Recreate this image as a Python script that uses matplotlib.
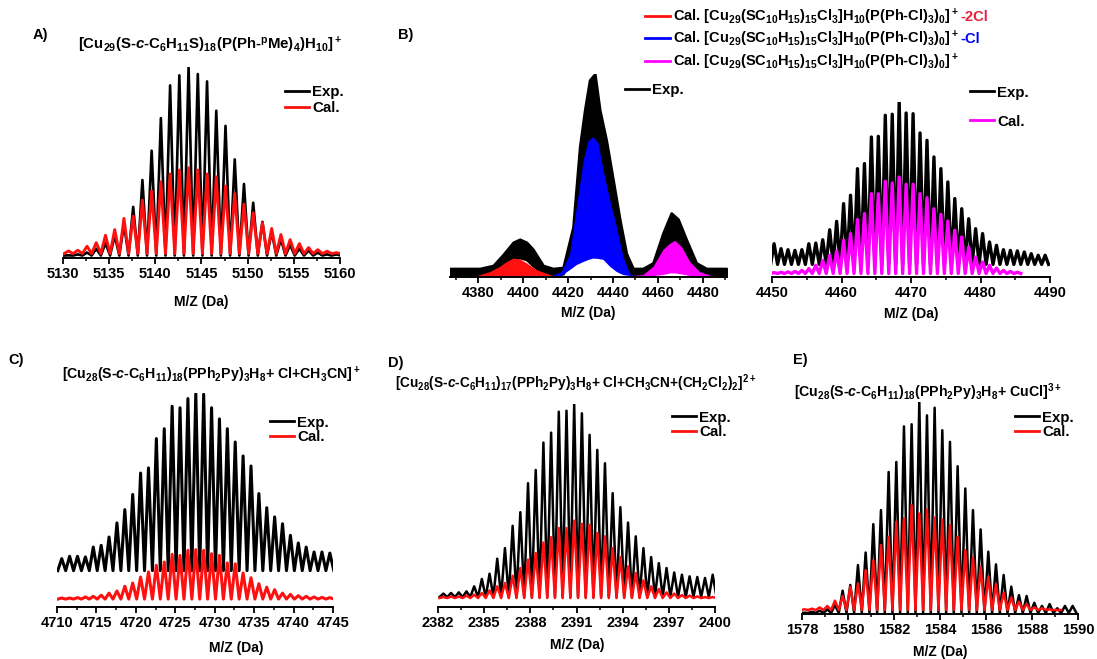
import numpy as np
import matplotlib
matplotlib.use('Agg')
import matplotlib.pyplot as plt
from matplotlib.lines import Line2D
from matplotlib.ticker import MultipleLocator

plt.rcParams['font.family'] = ['Liberation Sans', 'DejaVu Sans']
plt.rcParams['font.weight'] = 'bold'
plt.rcParams['mathtext.fontset'] = 'custom'
plt.rcParams['mathtext.rm'] = 'Liberation Sans:bold'
plt.rcParams['mathtext.it'] = 'Liberation Sans:italic:bold'
plt.rcParams['mathtext.bf'] = 'Liberation Sans:bold'
plt.rcParams['mathtext.default'] = 'regular'

RED = '#ff1010'
BLUE = '#0000ff'
MAGENTA = '#ff00ff'

# === DATA (normalised intensities) ===
# A) isotope peaks, 1 Da apart
mz_A = np.arange(5130.6, 5160.0, 1.0)
exp_A = [0.005, 0.01, 0.02, 0.04, 0.07, 0.11, 0.17, 0.261, 0.403, 0.558,
         0.730, 0.903, 0.956, 1.0, 0.963, 0.924, 0.769, 0.689, 0.512, 0.382,
         0.283, 0.182, 0.13, 0.09, 0.06, 0.04, 0.03, 0.02, 0.01, 0.01]
cal_A = [0.028, 0.032, 0.053, 0.072, 0.111, 0.141, 0.200, 0.212, 0.297, 0.345,
         0.394, 0.435, 0.456, 0.468, 0.456, 0.435, 0.420, 0.371, 0.332, 0.276,
         0.230, 0.177, 0.147, 0.115, 0.088, 0.067, 0.046, 0.035, 0.027, 0.019]
exp_A_base = 0.004
cal_A_base = 0.014

# B) wide scan, envelopes (upper / lower edge of the dense spectra)
mz_B_exp = [4367.4, 4380.7, 4386.7, 4391.1, 4395.6, 4398.5, 4401.5, 4404.4, 4408.9,
            4413.3, 4417.8, 4422.2, 4425.2, 4427.4, 4429.6, 4431.9, 4434.1, 4437.0,
            4440.0, 4443.0, 4445.9, 4448.9, 4453.3, 4457.8, 4462.2, 4465.9, 4468.9,
            4472.6, 4477.0, 4481.5, 4490.4]
exp_B_top = [0.035, 0.035, 0.05, 0.104, 0.165, 0.18, 0.165, 0.13, 0.05, 0.035,
             0.04, 0.24, 0.64, 0.82, 0.97, 1.0, 0.82, 0.67, 0.475, 0.277,
             0.11, 0.035, 0.035, 0.063, 0.21, 0.31, 0.28, 0.178, 0.063, 0.035, 0.035]
exp_B_bot = [0.0, 0.0, 0.01, 0.04, 0.08, 0.09, 0.08, 0.05, 0.01, 0.0,
             0.01, 0.12, 0.35, 0.5, 0.6, 0.6, 0.55, 0.45, 0.3, 0.15,
             0.04, 0.0, 0.0, 0.02, 0.1, 0.15, 0.14, 0.08, 0.02, 0.0, 0.0]
mz_B_red = [4379.3, 4385.2, 4389.6, 4392.6, 4395.6, 4398.5, 4401.5, 4405.9, 4411.9, 4414.0]
red_B_top = [0.0, 0.02, 0.046, 0.07, 0.087, 0.083, 0.063, 0.03, 0.005, 0.0]
mz_B_blue = [4412.6, 4417.0, 4420.7, 4423.7, 4426.7, 4428.9, 4431.1, 4433.3, 4435.6,
             4438.5, 4441.5, 4444.4, 4447.4, 4448.9]
blue_B_top = [0.0, 0.02, 0.11, 0.34, 0.57, 0.67, 0.69, 0.66, 0.525,
              0.376, 0.244, 0.096, 0.01, 0.0]
blue_B_bot = [0.0, 0.002, 0.03, 0.055, 0.07, 0.08, 0.087, 0.085, 0.08,
              0.046, 0.02, 0.005, 0.0, 0.0]
mz_B_mag = [4447.4, 4453.3, 4457.8, 4462.2, 4465.2, 4467.4, 4470.4, 4474.1, 4478.5, 4483.7]
mag_B_top = [0.0, 0.005, 0.046, 0.13, 0.16, 0.175, 0.145, 0.07, 0.02, 0.0]
mag_B_bot = [0.0, 0.0, 0.0, 0.005, 0.013, 0.013, 0.008, 0.0, 0.0, 0.0]

# B) zoom on the right-hand cluster
mz_B2 = np.arange(4450.3, 4490.0, 1.0)
exp_B2 = [0.190, 0.162, 0.156, 0.152, 0.156, 0.190, 0.194, 0.213, 0.270, 0.318,
          0.419, 0.467, 0.619, 0.648, 0.800, 0.804, 0.924, 0.930, 1.0, 0.937,
          0.933, 0.823, 0.781, 0.686, 0.619, 0.543, 0.448, 0.390, 0.333, 0.276,
          0.248, 0.200, 0.181, 0.156, 0.152, 0.149, 0.143, 0.133, 0.124, 0.124]
mz_B2_cal = np.arange(4450.3, 4486.0, 1.0)
cal_B2 = [0.025, 0.027, 0.029, 0.032, 0.038, 0.048, 0.067, 0.095, 0.124, 0.149,
          0.210, 0.248, 0.328, 0.362, 0.476, 0.476, 0.547, 0.537, 0.571, 0.530,
          0.530, 0.476, 0.453, 0.390, 0.358, 0.320, 0.267, 0.229, 0.171, 0.114,
          0.086, 0.067, 0.051, 0.038, 0.032, 0.027]
exp_B2_base = 0.072
cal_B2_base = 0.02

# C) 1+ ion
mz_C = np.arange(4710.6, 4745.0, 1.0)
exp_C = [0.226, 0.237, 0.237, 0.234, 0.280, 0.288, 0.327, 0.393, 0.455, 0.526,
         0.626, 0.650, 0.787, 0.833, 0.938, 0.931, 0.974, 1.0, 0.994, 0.931,
         0.879, 0.833, 0.771, 0.706, 0.659, 0.530, 0.464, 0.421, 0.389, 0.335,
         0.299, 0.280, 0.257, 0.257, 0.252]
cal_C = [0.042, 0.042, 0.044, 0.047, 0.050, 0.055, 0.065, 0.075, 0.097, 0.112,
         0.140, 0.164, 0.195, 0.210, 0.246, 0.241, 0.265, 0.268, 0.265, 0.249,
         0.241, 0.206, 0.202, 0.159, 0.137, 0.109, 0.093, 0.081, 0.065, 0.059,
         0.053, 0.050, 0.047, 0.045, 0.044]
exp_C_base = 0.17
cal_C_base = 0.037

# D) 2+ ion, 0.5 Da spacing
mz_D = np.arange(2382.35, 2400.0, 0.5)
exp_D = [0.066, 0.069, 0.072, 0.077, 0.102, 0.138, 0.164, 0.238, 0.290, 0.400,
         0.467, 0.610, 0.675, 0.810, 0.859, 0.962, 0.967, 1.0, 0.954, 0.848,
         0.774, 0.708, 0.561, 0.492, 0.416, 0.348, 0.290, 0.246, 0.216, 0.192,
         0.170, 0.159, 0.151, 0.148, 0.143, 0.159]
cal_D = [0.049, 0.052, 0.052, 0.056, 0.061, 0.069, 0.082, 0.102, 0.118, 0.154,
         0.192, 0.233, 0.266, 0.318, 0.344, 0.389, 0.389, 0.425, 0.410, 0.405,
         0.364, 0.348, 0.290, 0.246, 0.200, 0.167, 0.131, 0.102, 0.089, 0.072,
         0.066, 0.059, 0.056, 0.052, 0.049, 0.049]
exp_D_base = 0.049
cal_D_base = 0.044

# E) 3+ ion, 1/3 Da spacing
mz_E = 1578.10 + np.arange(36) / 3.0
exp_E = [0.006, 0.011, 0.016, 0.022, 0.042, 0.110, 0.137, 0.231, 0.290, 0.424,
         0.490, 0.670, 0.717, 0.885, 0.895, 1.0, 0.937, 0.973, 0.867, 0.812,
         0.697, 0.592, 0.490, 0.399, 0.294, 0.234, 0.184, 0.129, 0.089, 0.085,
         0.053, 0.038, 0.047, 0.027, 0.038, 0.038]
mz_E_cal = 1578.10 + np.arange(34) / 3.0
cal_E = [0.022, 0.025, 0.031, 0.038, 0.063, 0.085, 0.129, 0.144, 0.207, 0.254,
         0.325, 0.364, 0.435, 0.451, 0.513, 0.474, 0.493, 0.455, 0.446, 0.419,
         0.364, 0.301, 0.267, 0.223, 0.176, 0.141, 0.100, 0.078, 0.058, 0.047,
         0.031, 0.027, 0.022, 0.019]
exp_E_base = 0.005
cal_E_base = 0.019

title_A = r"[Cu$_{29}$(S-$\mathit{c}$-C$_6$H$_{11}$S)$_{18}$(P(Ph-$^p$Me)$_4$)H$_{10}$]$^+$"
title_C = r"[Cu$_{28}$(S-$\mathit{c}$-C$_6$H$_{11}$)$_{18}$(PPh$_2$Py)$_3$H$_8$+ Cl+CH$_3$CN]$^+$"
title_D = (r"[Cu$_{28}$(S-$\mathit{c}$-C$_6$H$_{11}$)$_{17}$(PPh$_2$Py)$_3$H$_8$+ "
           r"Cl+CH$_3$CN+(CH$_2$Cl$_2$)$_2$]$^{2+}$")
title_E = r"[Cu$_{28}$(S-$\mathit{c}$-C$_6$H$_{11}$)$_{18}$(PPh$_2$Py)$_3$H$_8$+ CuCl]$^{3+}$"
cal_B_label = r"Cal. [Cu$_{29}$(SC$_{10}$H$_{15}$)$_{15}$Cl$_3$]H$_{10}$(P(Ph-Cl)$_3$)$_0$]$^+$"
xlabel = "M/Z (Da)"

W, H = 1097, 659
fig = plt.figure(figsize=(W / 100, H / 100), dpi=100)

FS_TITLE = 10.2
FS_LEG = 10.8
FS_TICK = 10.5
FS_XL = 10.0


def add_ax(x0, x1, ytop, ybot):
    return fig.add_axes([x0 / W, 1 - ybot / H, (x1 - x0) / W, (ybot - ytop) / H])


def zigzag(mz, peaks, base):
    # peak tops joined through valleys halfway between neighbouring peaks
    mz = np.asarray(mz, float)
    step = mz[1] - mz[0]
    xs, ys = [mz[0] - step / 2], [base]
    for m, p in zip(mz, peaks):
        xs += [m, m + step / 2]
        ys += [p, base]
    return xs, ys


def style(ax, xlim, ylim, major, minor):
    ax.set_xlim(*xlim)
    ax.set_ylim(*ylim)
    for s in ['left', 'right', 'top']:
        ax.spines[s].set_visible(False)
    ax.spines['bottom'].set_linewidth(1.4)
    ax.set_yticks([])
    ax.xaxis.set_major_locator(MultipleLocator(major))
    ax.xaxis.set_minor_locator(MultipleLocator(minor))
    ax.tick_params(axis='x', which='major', direction='out', length=4, width=1.3,
                   pad=2.5, labelsize=FS_TICK)
    ax.tick_params(axis='x', which='minor', direction='out', length=2.5, width=1.1)
    ax.patch.set_alpha(0)


def leg(ax, x, y, colors, labels, spacing, fs=FS_LEG):
    handles = [Line2D([], [], color=c, lw=2.0) for c in colors]
    return ax.legend(handles, labels, loc='center left',
                     bbox_to_anchor=(x / W, 1 - y / H), bbox_transform=fig.transFigure,
                     frameon=False, borderpad=0, borderaxespad=0, handlelength=1.6,
                     handletextpad=0.2, labelspacing=spacing, fontsize=fs)


def ftext(x, y, s, **kw):
    fig.text(x / W, 1 - y / H, s, va='center', **kw)


# --- A ---
ax = add_ax(63, 340, 67, 258)
ax.plot(*zigzag(mz_A, exp_A, exp_A_base), color='k', lw=1.9)
ax.plot(*zigzag(mz_A, cal_A, cal_A_base), color=RED, lw=2.1)
style(ax, (5130, 5160), (-0.009, 1.0), 5, 2.5)
leg(ax, 285, 100, ['k', RED], ['Exp.', 'Cal.'], 0.1)
ftext(33, 35, 'A)', fontsize=10.5)
ftext(210, 45, title_A, ha='center', fontsize=10.8)
ftext(201, 302, xlabel, ha='center', fontsize=FS_XL)

# --- B left ---
ax = add_ax(450, 727, 74, 277)
ax.fill_between(mz_B_exp, exp_B_bot, exp_B_top, color='k', lw=2.0)
ax.fill_between(mz_B_red, 0, red_B_top, color=RED, lw=0)
ax.fill_between(mz_B_blue, blue_B_bot, blue_B_top, color=BLUE, lw=0)
ax.fill_between(mz_B_mag, mag_B_bot, mag_B_top, color=MAGENTA, lw=0)
style(ax, (4367.5, 4490.7), (-0.007, 1.0), 20, 10)
leg(ax, 625, 90, ['k'], ['Exp.'], 0.2)
ftext(398, 35, 'B)', fontsize=10.5)
ftext(588, 313, xlabel, ha='center', fontsize=FS_XL)

# shared legend for the calculated patterns
lg = fig.legend([Line2D([], [], color=c, lw=2.0) for c in [RED, BLUE, MAGENTA]],
                [cal_B_label] * 3, loc='center left',
                bbox_to_anchor=(645 / W, 1 - 39 / H), frameon=False, borderpad=0,
                borderaxespad=0, handlelength=1.7, handletextpad=0.2,
                labelspacing=0.15, fontsize=10.5)
txts = lg.get_texts()
for t, s, c in zip(txts[:2], ['-2Cl', '-Cl'], ['#e8203a', BLUE]):
    fig.add_artist(plt.Annotation(s, xy=(1, 0.3), xycoords=t, color=c,
                                  fontsize=10.5, va='baseline', xytext=(1.5, 0),
                                  textcoords='offset points', zorder=10))

# --- B right ---
ax = add_ax(772, 1050, 102, 277)
ax.plot(*zigzag(mz_B2, exp_B2, exp_B2_base), color='k', lw=2.4)
ax.plot(*zigzag(mz_B2_cal, cal_B2, cal_B2_base), color=MAGENTA, lw=2.4)
style(ax, (4450, 4490), (0, 1.0), 10, 5)
leg(ax, 970, 107, ['k', MAGENTA], ['Exp.', 'Cal.'], 1.0)
ftext(911, 314, xlabel, ha='center', fontsize=FS_XL)

# --- C ---
ax = add_ax(57, 333, 393, 607)
ax.plot(*zigzag(mz_C, exp_C, exp_C_base), color='k', lw=2.2)
ax.plot(*zigzag(mz_C, cal_C, cal_C_base), color=RED, lw=2.2)
style(ax, (4710, 4745), (0, 1.0), 5, 2.5)
leg(ax, 270, 430, ['k', RED], ['Exp.', 'Cal.'], 0.05)
ftext(8, 360, 'C)', fontsize=10.5)
ftext(211, 375, title_C, ha='center', fontsize=FS_TITLE)
ftext(236, 648, xlabel, ha='center', fontsize=FS_XL)

# --- D ---
ax = add_ax(438, 715, 404, 607)
ax.plot(*zigzag(mz_D, exp_D, exp_D_base), color='k', lw=1.8)
ax.plot(*zigzag(mz_D, cal_D, cal_D_base), color=RED, lw=1.8)
style(ax, (2382, 2400), (0, 1.0), 3, 1.5)
leg(ax, 672, 425, ['k', RED], ['Exp.', 'Cal.'], 0.05)
ftext(388, 363, 'D)', fontsize=10.5)
ftext(576, 383, title_D, ha='center', fontsize=9.8)
ftext(577, 645, xlabel, ha='center', fontsize=FS_XL)

# --- E ---
ax = add_ax(802, 1078, 402, 614)
ax.plot(*zigzag(mz_E, exp_E, exp_E_base), color='k', lw=1.8)
ax.plot(*zigzag(mz_E_cal, cal_E, cal_E_base), color=RED, lw=1.8)
style(ax, (1578, 1590), (0, 1.0), 2, 1)
leg(ax, 1015, 425, ['k', RED], ['Exp.', 'Cal.'], 0.05)
ftext(793, 360, 'E)', fontsize=10.5)
ftext(928, 392, title_E, ha='center', fontsize=FS_TITLE)
ftext(940, 652, xlabel, ha='center', fontsize=FS_XL)

fig.savefig('out.png', dpi=100)
